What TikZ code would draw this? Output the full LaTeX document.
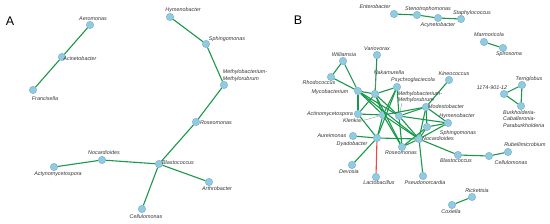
\documentclass[tikz,border=0pt]{standalone}
\usepackage{fontspec}
\usepackage{tikz}
\usetikzlibrary{calc, positioning}
\usepackage{xcolor}
\newfontfamily\lblfont{Liberation Sans}
\definecolor{taxFill}{RGB}{146, 202, 224}
\definecolor{taxEdge}{RGB}{112, 172, 204}
\definecolor{linkG}{RGB}{24, 152, 74}
\definecolor{linkR}{RGB}{236, 72, 68}
\begin{document}
\begin{tikzpicture}[
  x=1pt, y=-1pt,
  taxon/.style={circle, draw=taxEdge, fill=taxFill, line width=0.4pt, minimum size=7.4pt, inner sep=0pt},
  tx/.style={font=\lblfont\itshape\fontsize{5.4}{6.5}\selectfont, inner sep=0pt, text=black!80},
  panel/.style={font=\lblfont\fontsize{12.5}{14}\selectfont, inner sep=0pt},
  link/.style={draw=linkG, line width=1.1pt},
  neg/.style={draw=linkR, line width=1.1pt},
  lead/.style={draw=black!45, line width=0.35pt}
]
  \useasboundingbox (0,0) rectangle (550,224);

  % --- Panel A ---
  \node[panel] (pA) at (10,21) {A};
  \begin{scope}
    \node[taxon] (a_aer) at (90,25)  {};
    \node[taxon] (a_aci) at (62,57)  {};
    \node[taxon] (a_fra) at (33,90)  {};
    \node[taxon] (a_hym) at (170,17) {};
    \node[taxon] (a_sph) at (206,44) {};
    \node[taxon] (a_met) at (224,85) {};
    \node[taxon] (a_ros) at (196,122) {};
    \node[taxon] (a_bla) at (159,164) {};
    \node[taxon] (a_noc) at (102,160) {};
    \node[taxon] (a_act) at (54,167) {};
    \node[taxon] (a_art) at (209,182) {};
    \node[taxon] (a_cel) at (142,209) {};
    \draw[link] (a_aer) -- (a_aci);
    \draw[link] (a_aci) -- (a_fra);
    \draw[link] (a_hym) -- (a_sph);
    \draw[link] (a_sph) -- (a_met);
    \draw[link] (a_met) -- (a_ros);
    \draw[link] (a_ros) -- (a_bla);
    \draw[link] (a_bla) -- (a_noc);
    \draw[link] (a_noc) -- (a_act);
    \draw[link] (a_bla) -- (a_art);
    \draw[link] (a_bla) -- (a_cel);
    % labels
    \node[tx] (a_aerL) at (93,19)  {Aeromonas};
    \node[tx] (a_aciL) at (80,59)  {Acinetobacter};
    \node[tx] (a_fraL) at (45,99)  {Francisella};
    \node[tx] (a_hymL) at (183,10) {Hymenobacter};
    \node[tx] (a_sphL) at (227,39) {Sphingomonas};
    \node[tx, align=left] (a_metL) at (245,75.5) {Methylobacterium-\\Methylorubrum};
    \node[tx] (a_rosL) at (216,123) {Roseomonas};
    \node[tx] (a_blaL) at (178,163) {Blastococcus};
    \node[tx] (a_nocL) at (104,153) {Nocardioides};
    \node[tx] (a_actL) at (58,174) {Actynomycetospora};
    \node[tx] (a_artL) at (217,189) {Arthrobacter};
    \node[tx] (a_celL) at (146,217) {Cellulomonas};
  \end{scope}

  % --- Panel B ---
  \node[panel] (pB) at (298,20) {B};
  \begin{scope}
    \node[taxon] (ent) at (394,14) {};
    \node[taxon] (ste) at (417,15) {};
    \node[taxon] (acy) at (438,18) {};
    \node[taxon] (sta) at (461,19) {};
    \node[taxon] (mar) at (484,42) {};
    \node[taxon] (spi) at (503,48) {};
    \node[taxon] (wil) at (343,61) {};
    \node[taxon] (var) at (377,55) {};
    \node[taxon] (rho) at (331,77) {};
    \node[taxon] (psy) at (397,87) {};
    \node[taxon] (kin) at (449,80) {};
    \node[taxon] (myc) at (358,91) {};
    \node[taxon] (nak) at (375,94) {};
    \node[taxon] (ter) at (522,85) {};
    \node[taxon] (tfn) at (504,94) {};
    \node[taxon] (bur) at (521,106) {};
    \node[taxon] (mod) at (426,107) {};
    \node[taxon] (act) at (358,114) {};
    \node[taxon] (kle) at (383,115) {};
    \node[taxon] (met) at (399,116) {};
    \node[taxon] (hym) at (448,123) {};
    \node[taxon] (sph) at (427,127) {};
    \node[taxon] (aur) at (353,136) {};
    \node[taxon] (dya) at (377,138) {};
    \node[taxon] (noc) at (419,139) {};
    \node[taxon] (ros) at (402,147) {};
    \node[taxon] (bla) at (458,155) {};
    \node[taxon] (cel) at (489,156) {};
    \node[taxon] (rub) at (508,152) {};
    \node[taxon] (dev) at (352,165) {};
    \node[taxon] (lac) at (376,177) {};
    \node[taxon] (pse) at (423,176) {};
    \node[taxon] (ric) at (472,197) {};
    \node[taxon] (cox) at (452,205) {};
    % small components
    \draw[link] (ent) -- (ste);
    \draw[link] (ste) -- (acy);
    \draw[link] (acy) -- (sta);
    \draw[link] (mar) -- (spi);
    \draw[link] (ter) -- (tfn);
    \draw[link] (tfn) -- (bur);
    \draw[link] (ter) -- (bur);
    \draw[link] (ric) -- (cox);
    \draw[link] (bla) -- (cel);
    \draw[link] (cel) -- (rub);
    % main component
    \foreach \u/\v in {myc/wil, myc/rho, wil/rho, var/nak, myc/nak, myc/act,
      myc/kle, myc/met, myc/noc, nak/psy, nak/act, nak/kle, nak/met, nak/ros,
      psy/kle, psy/met, psy/dya, act/kle, act/dya, kle/dya, kle/mod, kle/noc,
      kle/ros, met/mod, met/noc, met/ros, met/hym, kin/mod, mod/sph, mod/noc,
      mod/hym, hym/sph, hym/noc, sph/noc, sph/ros, noc/ros, noc/dya, noc/pse,
      noc/bla, dya/aur, dya/dev}
      \draw[link] (\u) -- (\v);
    \draw[neg] (dya) -- (lac);
    % labels
    \node[tx] (entL) at (375,7)  {Enterobacter};
    \node[tx] (steL) at (428,9)  {Stenotrophomonas};
    \node[tx] (acyL) at (438,25) {Acynetobacter};
    \node[tx] (staL) at (472,13) {Staphylococcus};
    \node[tx] (marL) at (489,35) {Marmoricola};
    \node[tx] (spiL) at (509,54) {Spirosoma};
    \node[tx] (wilL) at (344,55) {Williamsia};
    \node[tx] (varL) at (377,49) {Variovorax};
    \node[tx] (rhoL) at (319,83) {Rhodococcus};
    \node[tx] (nakL) at (389,73) {Nakamurella};
    \node[tx] (psyL) at (413,80) {Psychroglaciecola};
    \node[tx] (kinL) at (454,74) {Kineococcus};
    \node[tx] (mycL) at (330,92) {Mycobacterium};
    \node[tx, align=left] (metL) at (420,97) {Methylobacterium-\\Methylorubrum};
    \node[tx] (terL) at (529,79) {Terriglobus};
    \node[tx] (tfnL) at (492,88) {1174-901-12};
    \node[tx, align=left, anchor=north west] (burL) at (503,110)
      {Burkholderia-\\Caballeronia-\\Paraburkholderia};
    \node[tx] (modL) at (446,107) {Modestobacter};
    \node[tx] (actL) at (330,114) {Actinomycetospora};
    \node[tx] (kleL) at (352,121) {Klenkia};
    \node[tx] (hymL) at (457,116) {Hymenobacter};
    \node[tx] (sphL) at (458,133) {Sphingomonas};
    \node[tx] (aurL) at (332,136) {Aureimonas};
    \node[tx] (dyaL) at (352,144) {Dyadobacter};
    \node[tx] (nocL) at (438,139) {Nocardioides};
    \node[tx] (rosL) at (401,152.5) {Roseomonas};
    \node[tx] (blaL) at (456,161) {Blastococcus};
    \node[tx] (celL) at (511,163) {Cellulomonas};
    \node[tx] (rubL) at (525,145) {Rubellimicrobium};
    \node[tx] (devL) at (349,172) {Devosia};
    \node[tx] (lacL) at (379,183) {Lactobacillus};
    \node[tx] (pseL) at (425,183) {Pseudonorcardia};
    \node[tx] (ricL) at (477,191) {Rickettsia};
    \node[tx] (coxL) at (451,212) {Coxiella};
    % leader lines
    \draw[lead] (nakL.south west) ++(2,0) -- (nak);
    \draw[lead] (kleL.east) -- (kle);
    \draw[lead] (metL.south) ++(-18,0) -- (met);
  \end{scope}
\end{tikzpicture}
\end{document}
